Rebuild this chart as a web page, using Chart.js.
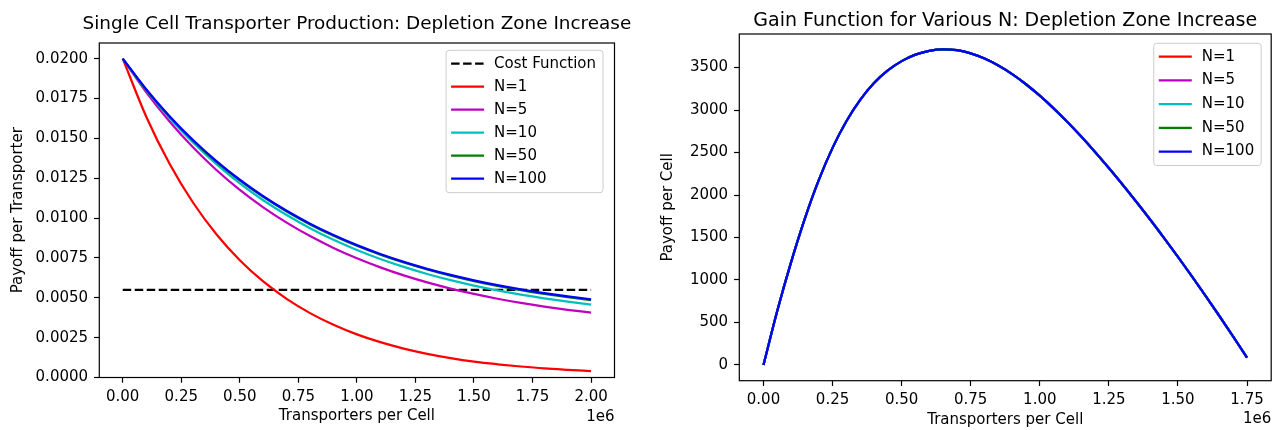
<!DOCTYPE html>
<html>
<head>
<meta charset="utf-8">
<script src="https://cdn.jsdelivr.net/npm/chart.js@4.4.1/dist/chart.umd.min.js"></script>
<style>
  html, body { margin: 0; padding: 0; background: #fff; }
  #wrap { position: relative; width: 1281px; height: 430px; overflow: hidden; }
  canvas { position: absolute; top: 0; }
  #left { left: 0; }
  #right { left: 640px; }
</style>
</head>
<body>
<div id="wrap">
  <canvas id="left" width="640" height="430"></canvas>
  <canvas id="right" width="641" height="430"></canvas>
</div>
<script>
// ---- left panel: payoff per transporter (x in units of 1e6) ----
var payoffX = [0, 0.1, 0.2, 0.3, 0.4, 0.5, 0.6, 0.7, 0.8, 0.9, 1.0,
               1.1, 1.2, 1.3, 1.4, 1.5, 1.6, 1.7, 1.8, 1.9, 2.0];
var payoffN1 = [0.0200, 0.016375, 0.013406, 0.010976, 0.008987, 0.007358, 0.006024, 0.004932, 0.004038, 0.003306, 0.002707,
                0.002216, 0.001814, 0.001486, 0.001216, 0.000996, 0.00083, 0.00069, 0.00057, 0.00048, 0.00040];
var payoffN5 = [0.0200, 0.017900, 0.016056, 0.014438, 0.013017, 0.011768, 0.010674, 0.009713, 0.008868, 0.008127, 0.007475,
                0.006906, 0.006403, 0.005963, 0.005578, 0.005239, 0.004940, 0.004678, 0.004449, 0.004248, 0.004071];
var payoffN10 = [0.0200, 0.018021, 0.016275, 0.014735, 0.013376, 0.012178, 0.011120, 0.010187, 0.009364, 0.008638, 0.007998,
                 0.007432, 0.006934, 0.006494, 0.006106, 0.005764, 0.005461, 0.005196, 0.004961, 0.004752, 0.004571];
var payoffN50 = [0.0200, 0.018055, 0.016355, 0.014855, 0.013530, 0.012360, 0.011325, 0.010410, 0.009603, 0.008890, 0.008260,
                 0.007703, 0.007210, 0.006775, 0.006390, 0.006050, 0.005750, 0.005485, 0.005250, 0.005042, 0.004860];
var payoffN100 = [0.0200, 0.018084, 0.016391, 0.014895, 0.013572, 0.012403, 0.011369, 0.010456, 0.009648, 0.008935, 0.008305,
                  0.007747, 0.007254, 0.006818, 0.006432, 0.006092, 0.005792, 0.005526, 0.005290, 0.005082, 0.004899];
var costX = [0, 2.0];
var costFn = [0.0055, 0.0055];
var leftXTicks = [0, 0.25, 0.5, 0.75, 1.0, 1.25, 1.5, 1.75, 2.0];
var leftYTicks = [0, 0.0025, 0.005, 0.0075, 0.01, 0.0125, 0.015, 0.0175, 0.02];

// ---- right panel: gain per cell; all N lie on the same curve ----
var gainX = [0, 0.05, 0.1, 0.15, 0.2, 0.25, 0.3, 0.35, 0.4, 0.45, 0.5, 0.55, 0.6, 0.65, 0.7, 0.75, 0.8, 0.85,
             0.9, 0.95, 1.0, 1.05, 1.1, 1.15, 1.2, 1.25, 1.3, 1.35, 1.4, 1.45, 1.5, 1.55, 1.6, 1.65, 1.7, 1.75];
var gain = [0, 638, 1210, 1725, 2175, 2555, 2868, 3120, 3318, 3466, 3576, 3653, 3698, 3715, 3705, 3668, 3606, 3524,
            3423, 3304, 3169, 3020, 2859, 2688, 2507, 2318, 2122, 1918, 1709, 1493, 1272, 1045, 813, 576, 333, 86];
var rightXTicks = [0, 0.25, 0.5, 0.75, 1.0, 1.25, 1.5, 1.75];
var rightYTicks = [0, 500, 1000, 1500, 2000, 2500, 3000, 3500];

var seriesNames = ['N=1', 'N=5', 'N=10', 'N=50', 'N=100'];
var seriesColors = ['#ff0000', '#bf00bf', '#00bfbf', '#008000', '#0000ff'];

Chart.defaults.font.family = '"DejaVu Sans"';
Chart.defaults.font.size = 15;
Chart.defaults.color = '#000';

function pts(xs, ys) {
  return xs.map(function (x, i) { return { x: x, y: ys[i] }; });
}

function line(label, xs, ys, color, order, dash) {
  return {
    label: label, data: pts(xs, ys), borderColor: color, backgroundColor: color,
    borderWidth: 2.25, borderDash: dash || [], showLine: true, pointRadius: 0,
    cubicInterpolationMode: 'monotone', order: order
  };
}

function axis(min, max, ticks, fmt, fitSize, title, titlePad, tickPad) {
  return {
    type: 'linear', min: min, max: max,
    afterBuildTicks: function (s) { s.ticks = ticks.map(function (v) { return { value: v }; }); },
    afterFit: function (s) { if (s.isHorizontal()) s.height = fitSize; else s.width = fitSize; },
    ticks: { callback: fmt, padding: tickPad, color: '#000', font: { size: 15 }, maxRotation: 0, autoSkip: false },
    grid: { display: true, drawOnChartArea: false, drawTicks: true, tickLength: 5.25, tickColor: '#000', tickWidth: 1.2 },
    border: { display: false },
    title: { display: true, text: title, color: '#000', font: { size: 15 }, padding: titlePad }
  };
}

function decor(cfg) {
  return {
    id: 'decor',
    afterDraw: function (chart) {
      var ctx = chart.ctx, a = chart.chartArea;
      ctx.save();
      ctx.strokeStyle = '#000';
      ctx.lineWidth = 1.2;
      ctx.strokeRect(a.left, a.top, a.right - a.left, a.bottom - a.top);

      ctx.fillStyle = '#000';
      ctx.font = cfg.titleSize + 'px "DejaVu Sans"';
      ctx.textAlign = 'center';
      ctx.textBaseline = 'alphabetic';
      ctx.fillText(cfg.title, (a.left + a.right) / 2, cfg.titleY);

      ctx.font = '15px "DejaVu Sans"';
      ctx.textAlign = 'right';
      ctx.textBaseline = 'middle';
      ctx.fillText('1e6', a.right, cfg.offsetY);

      // legend box inside the upper right corner
      var items = chart.data.datasets;
      var tw = 0;
      items.forEach(function (d) { tw = Math.max(tw, ctx.measureText(d.label).width); });
      var w = 48 + tw + 7;
      var h = 13.4 + (items.length - 1) * cfg.rowGap + 14;
      var bx = a.right - cfg.insetR - w, by = a.top + cfg.insetT;
      ctx.beginPath();
      ctx.roundRect(bx, by, w, h, 3);
      ctx.fillStyle = 'rgba(255,255,255,0.8)';
      ctx.fill();
      ctx.strokeStyle = '#cccccc';
      ctx.lineWidth = 1;
      ctx.stroke();
      ctx.textAlign = 'left';
      items.forEach(function (d, i) {
        var y = by + 13.4 + i * cfg.rowGap;
        ctx.beginPath();
        ctx.setLineDash(d.borderDash || []);
        ctx.strokeStyle = d.borderColor;
        ctx.lineWidth = 2.25;
        ctx.moveTo(bx + 5, y);
        ctx.lineTo(bx + 38, y);
        ctx.stroke();
        ctx.setLineDash([]);
        ctx.fillStyle = '#000';
        ctx.fillText(d.label, bx + 48, y);
      });
      ctx.restore();
    }
  };
}

var leftSeries = [payoffN1, payoffN5, payoffN10, payoffN50, payoffN100];
var leftSets = [line('Cost Function', costX, costFn, '#000000', 6, [8.5, 3.5])];
leftSeries.forEach(function (ys, i) {
  leftSets.push(line(seriesNames[i], payoffX, ys, seriesColors[i], 5 - i));
});

new Chart(document.getElementById('left'), {
  type: 'scatter',
  data: { datasets: leftSets },
  options: {
    responsive: false, animation: false, events: [],
    layout: { padding: { top: 43, right: 25.5, bottom: 0, left: 0 } },
    plugins: { legend: { display: false }, tooltip: { enabled: false }, title: { display: false } },
    scales: {
      x: axis(-0.1, 2.1, leftXTicks, function (v) { return v.toFixed(2); }, 52.5,
              'Transporters per Cell', { top: 0, bottom: 5 }, 5),
      y: axis(0, 0.02098, leftYTicks, function (v) { return v.toFixed(4); }, 99.3,
              'Payoff per Transporter', { top: 9.2, bottom: 0 }, 6)
    }
  },
  plugins: [decor({ title: 'Single Cell Transporter Production: Depletion Zone Increase', titleSize: 18.4,
                    titleY: 28.5, offsetY: 417.5, insetR: 11.5, insetT: 7.3, rowGap: 23 })]
});

var rightSets = seriesNames.map(function (name, i) {
  return line(name, gainX, gain, seriesColors[i], 5 - i);
});

new Chart(document.getElementById('right'), {
  type: 'scatter',
  data: { datasets: rightSets },
  options: {
    responsive: false, animation: false, events: [],
    layout: { padding: { top: 34, right: 9.8, bottom: 0, left: 0 } },
    plugins: { legend: { display: false }, tooltip: { enabled: false }, title: { display: false } },
    scales: {
      x: axis(-0.0875, 1.8375, rightXTicks, function (v) { return v.toFixed(2); }, 49.3,
              'Transporters per Cell', { top: 0, bottom: 1 }, 5),
      y: axis(-185.5, 3895.5, rightYTicks, function (v) { return String(v); }, 99.3,
              'Payoff per Cell', { top: 19, bottom: 0 }, 6)
    }
  },
  plugins: [decor({ title: 'Gain Function for Various N: Depletion Zone Increase', titleSize: 19,
                    titleY: 26, offsetY: 419.5, insetR: 10, insetT: 9.3, rowGap: 23.7 })]
});
</script>
</body>
</html>
